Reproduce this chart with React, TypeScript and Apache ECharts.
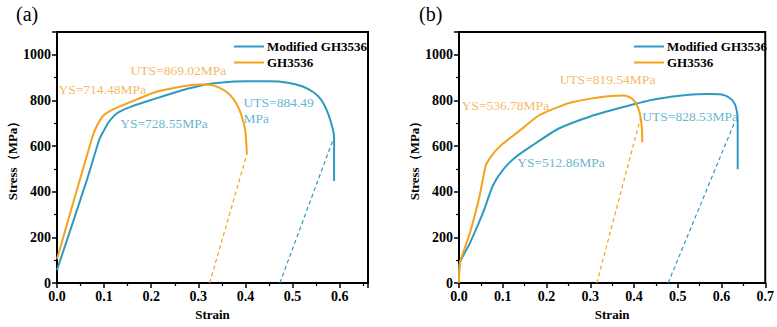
import React, { useEffect, useRef } from "react";
import * as echarts from "echarts";

const ORANGE = "#F5A11C";
const BLUE = "#2C9BBE";
const ORANGE_TXT = "#F2A737";
const BLUE_TXT = "#3BA3C2";
const FONT = "'Liberation Serif', serif";

const seriesNames = ["Modified GH3536", "GH3536"];

// Panel (a)
const aModified: number[][] = [
  [0, 57], [0.064, 455], [0.09, 630], [0.1, 670], [0.108, 700], [0.12, 730], [0.131, 749],
  [0.16, 775], [0.209, 808], [0.25, 835], [0.279, 852], [0.31, 868], [0.35, 879], [0.4, 884],
  [0.45, 884], [0.49, 878], [0.52, 862], [0.545, 835], [0.56, 805], [0.572, 760], [0.582, 700],
  [0.588, 640], [0.588, 447],
];
const aGH: number[][] = [
  [0, 105], [0.075, 640], [0.085, 690], [0.095, 725], [0.103, 742], [0.12, 762], [0.138, 778],
  [0.17, 805], [0.209, 837], [0.25, 856], [0.279, 866], [0.3, 870], [0.315, 870], [0.33, 866],
  [0.345, 855], [0.36, 837], [0.375, 805], [0.386, 764], [0.395, 710], [0.4, 662], [0.403, 565],
];
const aModifiedUnload: number[][] = [[0.473, 0], [0.588, 640]];
const aGHUnload: number[][] = [[0.324, 0], [0.403, 565]];

// Panel (b)
const bModified: number[][] = [
  [0, 0], [0.002, 88], [0.025, 175], [0.055, 308], [0.077, 425], [0.1, 495], [0.129, 551],
  [0.167, 602], [0.227, 676], [0.3, 730], [0.376, 771], [0.451, 806], [0.525, 825], [0.57, 828],
  [0.6, 826], [0.618, 812], [0.63, 786], [0.636, 742], [0.637, 700], [0.637, 499],
];
const bGH: number[][] = [
  [0, 0], [0.002, 88], [0.025, 219], [0.047, 381], [0.061, 515], [0.07, 545], [0.084, 580],
  [0.1, 610], [0.12, 640], [0.144, 676], [0.182, 734], [0.226, 771], [0.26, 793], [0.301, 808],
  [0.34, 818], [0.376, 822], [0.392, 812], [0.402, 795], [0.41, 765], [0.415, 727], [0.418, 680],
  [0.419, 617],
];
const bModifiedUnload: number[][] = [[0.478, 0], [0.63, 705]];
const bGHUnload: number[][] = [[0.315, 0], [0.415, 725]];

// Annotations: [text, x, y]
const aModifiedNotes: [string, number, number][] = [
  ["YS=728.55MPa", 0.134, 698],
  ["UTS=884.49\nMPa", 0.396, 755],
];
const aGHNotes: [string, number, number][] = [
  ["YS=714.48MPa", 0.003, 848],
  ["UTS=869.02MPa", 0.156, 932],
];
const bModifiedNotes: [string, number, number][] = [
  ["YS=512.86MPa", 0.133, 528],
  ["UTS=828.53MPa", 0.419, 730],
];
const bGHNotes: [string, number, number][] = [
  ["YS=536.78MPa", 0.006, 778],
  ["UTS=819.54MPa", 0.23, 892],
];

const panelLabels = ["(a)", "(b)"];
const xMax = [0.66, 0.7];
const yMax = 1100;

function App() {
  const ref = useRef<HTMLDivElement>(null);
  useEffect(() => {
    if (!ref.current) return;
    const chart = echarts.init(ref.current, null, { renderer: "svg" });

    const axisFont = { fontFamily: FONT, fontWeight: "bold" as const, fontSize: 14, color: "#000" };

    const mkX = (i: number) => ({
      type: "value" as const,
      gridIndex: i,
      min: 0,
      max: xMax[i],
      interval: 0.1,
      name: "Strain",
      nameLocation: "middle" as const,
      nameGap: 23,
      nameTextStyle: { ...axisFont, fontSize: 13 },
      axisLine: { show: true, onZero: false, lineStyle: { color: "#000", width: 2 } },
      axisTick: { show: true, length: 5, lineStyle: { color: "#000", width: 1.5 } },
      minorTick: { show: true, splitNumber: 2, length: 3, lineStyle: { color: "#000", width: 1.2 } },
      splitLine: { show: false },
      axisLabel: {
        ...axisFont,
        margin: 6,
        showMaxLabel: i === 1,
        formatter: (v: number) => v.toFixed(1),
      },
    });
    const mkY = (i: number) => ({
      type: "value" as const,
      gridIndex: i,
      min: 0,
      max: yMax,
      interval: 200,
      name: "Stress（MPa）",
      nameLocation: "middle" as const,
      nameGap: 34,
      nameTextStyle: { ...axisFont, fontSize: 13 },
      axisLine: { show: true, onZero: false, lineStyle: { color: "#000", width: 2 } },
      axisTick: { show: true, length: 5, lineStyle: { color: "#000", width: 1.5 } },
      minorTick: { show: true, splitNumber: 2, length: 3, lineStyle: { color: "#000", width: 1.2 } },
      splitLine: { show: false },
      axisLabel: { ...axisFont, margin: 6, showMaxLabel: false, formatter: (v: number) => String(v) },
    });

    const line = (name: string, data: number[][], color: string, i: number) => ({
      type: "line" as const,
      name,
      xAxisIndex: i,
      yAxisIndex: i,
      data,
      showSymbol: false,
      symbol: "none",
      smooth: 0.2,
      lineStyle: { color, width: 2 },
      itemStyle: { color },
      z: 3,
    });
    const dashed = (name: string, data: number[][], color: string, i: number) => ({
      type: "line" as const,
      name,
      xAxisIndex: i,
      yAxisIndex: i,
      data,
      symbol: "none",
      lineStyle: { color, width: 1.2, type: [4, 3] },
      itemStyle: { color },
      z: 2,
    });
    const notes = (name: string, items: [string, number, number][], color: string, i: number) => ({
      type: "scatter" as const,
      name,
      xAxisIndex: i,
      yAxisIndex: i,
      symbolSize: 0,
      data: items.map(([t, x, y]) => ({ name: t, value: [x, y] })),
      label: {
        show: true,
        position: [0, 0],
        align: "left",
        verticalAlign: "middle",
        formatter: (p: any) => p.name,
        fontFamily: FONT,
        fontSize: 13.5,
        lineHeight: 16,
        color,
      },
      silent: true,
      z: 5,
    });

    const legend = (left: number) => ({
      data: seriesNames.map((n) => ({ name: n, icon: "rect" })),
      left,
      top: 35,
      orient: "vertical" as const,
      itemWidth: 30,
      itemHeight: 2,
      itemGap: 3,
      textStyle: { fontFamily: FONT, fontWeight: "bold" as const, fontSize: 13, color: "#000", padding: [0, 0, 0, -2] },
      selectedMode: false,
    });

    chart.setOption({
      animation: false,
      backgroundColor: "#fff",
      textStyle: { fontFamily: FONT },
      grid: [
        { left: 57, top: 32, width: 311, height: 251, show: true, borderColor: "#000", borderWidth: 2, backgroundColor: "transparent" },
        { left: 459, top: 32, width: 313, height: 251, show: true, borderColor: "#000", borderWidth: 2, backgroundColor: "transparent" },
      ],
      xAxis: [mkX(0), mkX(1)],
      yAxis: [mkY(0), mkY(1)],
      legend: [legend(229), legend(629)],
      graphic: [
        { type: "text", left: 16, top: 4, style: { text: panelLabels[0], font: `20px ${FONT}`, fill: "#000" } },
        { type: "text", left: 419, top: 4, style: { text: panelLabels[1], font: `20px ${FONT}`, fill: "#000" } },
      ],
      series: [
        line(seriesNames[0], aModified, BLUE, 0),
        line(seriesNames[1], aGH, ORANGE, 0),
        dashed("a-mod-unload", aModifiedUnload, BLUE, 0),
        dashed("a-gh-unload", aGHUnload, ORANGE, 0),
        notes("a-mod-notes", aModifiedNotes, BLUE_TXT, 0),
        notes("a-gh-notes", aGHNotes, ORANGE_TXT, 0),
        line(seriesNames[0], bModified, BLUE, 1),
        line(seriesNames[1], bGH, ORANGE, 1),
        dashed("b-mod-unload", bModifiedUnload, BLUE, 1),
        dashed("b-gh-unload", bGHUnload, ORANGE, 1),
        notes("b-mod-notes", bModifiedNotes, BLUE_TXT, 1),
        notes("b-gh-notes", bGHNotes, ORANGE_TXT, 1),
      ],
    });
    return () => chart.dispose();
  }, []);

  return (
    <div
      ref={ref}
      style={{ position: "fixed", left: 0, top: 0, width: 777, height: 327, background: "#fff" }}
    />
  );
}

export default App;
